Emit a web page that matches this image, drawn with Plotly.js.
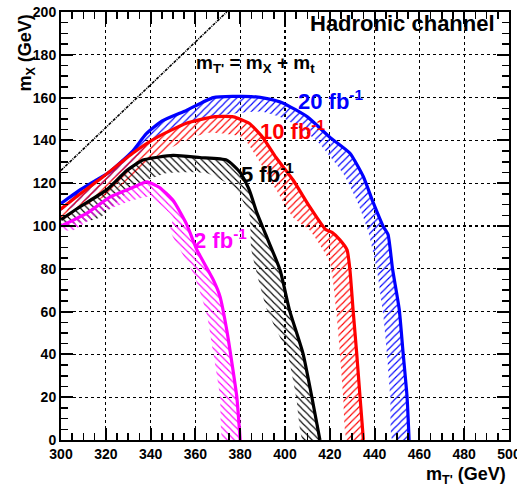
<!DOCTYPE html>
<html>
<head>
<meta charset="utf-8">
<script src="https://cdn.plot.ly/plotly-3.0.1.min.js"></script>
<style>html,body{margin:0;padding:0;background:#fff;}#chart{width:517px;height:486px;}</style>
</head>
<body>
<div id="chart"></div>
<script>
// Observed limit contours (outer thick line) and inner edge of hatched band
const blueX  = [300,308,315,322,332,338,345,356,368,385,392,399,410,420,429,435,439,444,446,448,451,452.7,454.5,455.4];
const blueY  = [110.5,116.5,121,125.5,135,143,149,154,160,160.5,159.5,157.5,151,141.5,134,123,112,99.5,96,80,61,41,20,0];
const blueInX = [300,311,322,333,340,356,370,389,400,414,426,432,437,441,443.8,445.5,447,448];
const blueInY = [106,112,121,131,139.5,147.5,151.5,153.5,150,140,124.5,112,98,79.5,59,40.5,20,0];

const redX  = [300,308.5,318.8,332,343,356,368,377,384,390,396,403.6,411,418,421,424.5,427.7,429,430.4,432,433.5,435];
const redY  = [108,115,123,134,141.5,148,151,151,148,141.5,132,121.5,109,98.5,97,93.5,88.8,79.4,60.7,40.6,20,0];
const redInX = [300,310,322,335,347,365,381,387.5,396,403.6,411,420,423,424.5,426,427.7];
const redInY = [102,109,115,126,135.5,143.5,141.5,132,117,104,98,83,59,40.6,20,0];

const blackX  = [300,308.5,320.5,329.5,336.6,350,362,374,380,384,387.5,391,397.8,402,408,412,415.6];
const blackY  = [103,109,117,126,130.8,133,132,130.8,125,117,106,97,79.4,60.7,40.6,20,0];
const blackInX = [300,317.4,332,347,365,377,384,385,392,401,405,408];
const blackInY = [100,104,118,124.6,124.6,118,106,88.8,60.7,40.6,20,0];

const magX  = [300,311.6,322,332,338.4,344,350,356,360.7,368,371,374,376.3,378.5,380];
const magY  = [100,106,113.6,118,120.6,118,112,101,88.8,74.8,67,51.4,36,20,0];
const magInX = [300,305.4,317.4,332,339.7,350,348.7,359,365,368,371,372.3];
const magInY = [98,98,106,112,113.6,104,98,78,59,40.6,20,0];

// Kinematic limit m_T' = m_X + m_t
const diagX = [300,374];
const diagY = [126,200];

const series = [
  {x: blueX, y: blueY, ix: blueInX, iy: blueInY, color: '#0000ff', hatch: '/'},
  {x: redX, y: redY, ix: redInX, iy: redInY, color: '#ff0000', hatch: '/'},
  {x: blackX, y: blackY, ix: blackInX, iy: blackInY, color: '#000000', hatch: '\\'},
  {x: magX, y: magY, ix: magInX, iy: magInY, color: '#ff00ff', hatch: '\\'}
];

const traces = [];
series.forEach(s => {
  traces.push({
    x: s.x.concat(s.ix.slice().reverse()),
    y: s.y.concat(s.iy.slice().reverse()),
    type: 'scatter', mode: 'none', fill: 'toself',
    fillcolor: 'rgba(0,0,0,0)',
    line: {shape: 'spline', smoothing: 0.5},
    fillpattern: {shape: s.hatch, fgcolor: s.color, bgcolor: 'rgba(0,0,0,0)', size: 5, solidity: 0.22},
    hoverinfo: 'skip', showlegend: false
  });
});
series.forEach(s => {
  traces.push({
    x: s.x, y: s.y, type: 'scatter', mode: 'lines',
    line: {color: s.color, width: 3.2, shape: 'spline', smoothing: 0.5},
    showlegend: false
  });
});
traces.push({
  x: diagX, y: diagY, type: 'scatter', mode: 'lines',
  line: {color: '#000', width: 1.6, dash: '3px,1px,1px,1px'}, showlegend: false
});

const F = 'Liberation Sans, Arial, sans-serif';
const axisCommon = {
  showline: true, linecolor: '#000', linewidth: 2, mirror: 'ticks',
  ticks: 'inside', ticklen: 12, tickwidth: 2, tickcolor: '#000',
  showgrid: true, gridcolor: '#000', griddash: 'dot', gridwidth: 1.3,
  zeroline: false, dtick: 20, ticklabeloverflow: 'allow',
  minor: {ticks: 'inside', ticklen: 7, dtick: 5, tickwidth: 1.5, tickcolor: '#000', showgrid: false},
  tickfont: {family: F, size: 14, color: '#000', weight: 'bold'}
};

const layout = {
  width: 517, height: 486,
  margin: {l: 61, r: 8, t: 12, b: 46},
  paper_bgcolor: '#fff', plot_bgcolor: '#fff',
  xaxis: Object.assign({}, axisCommon, {range: [300, 500]}),
  yaxis: Object.assign({}, axisCommon, {range: [0, 200]}),
  showlegend: false,
  annotations: [
    {text: '<b>Hadronic channel</b>', x: 452.5, y: 194.5, xref: 'x', yref: 'y', showarrow: false,
     font: {family: F, size: 22, color: '#000'}},
    {text: "<b>m<sub>T'</sub> = m<sub>X</sub> + m<sub>t</sub></b>", x: 387, y: 175.5, xref: 'x', yref: 'y', showarrow: false,
     font: {family: F, size: 19, color: '#000'}},
    {text: '<b>20 fb<sup>-1</sup></b>', x: 420.5, y: 159, xref: 'x', yref: 'y', showarrow: false,
     font: {family: F, size: 22, color: '#0000ff'}},
    {text: '<b>10 fb<sup>-1</sup></b>', x: 403.5, y: 145, xref: 'x', yref: 'y', showarrow: false,
     font: {family: F, size: 22, color: '#ff0000'}},
    {text: '<b>5 fb<sup>-1</sup></b>', x: 392, y: 125, xref: 'x', yref: 'y', showarrow: false,
     font: {family: F, size: 22, color: '#000'}},
    {text: '<b>2 fb<sup>-1</sup></b>', x: 371, y: 94, xref: 'x', yref: 'y', showarrow: false,
     font: {family: F, size: 22, color: '#ff00ff'}},
    {text: "<b>m<sub>T'</sub> (GeV)</b>", x: 0.998, y: -0.082, xref: 'paper', yref: 'paper', xanchor: 'right', yanchor: 'middle', showarrow: false,
     font: {family: F, size: 18, color: '#000'}},
    {text: '<b>m<sub>X</sub> (GeV)</b>', x: -0.076, y: 0.905, xref: 'paper', yref: 'paper', xanchor: 'center', yanchor: 'middle', textangle: -90, showarrow: false,
     font: {family: F, size: 18, color: '#000'}}
  ]
};

Plotly.newPlot('chart', traces, layout, {staticPlot: true, displayModeBar: false});
</script>
</body>
</html>
